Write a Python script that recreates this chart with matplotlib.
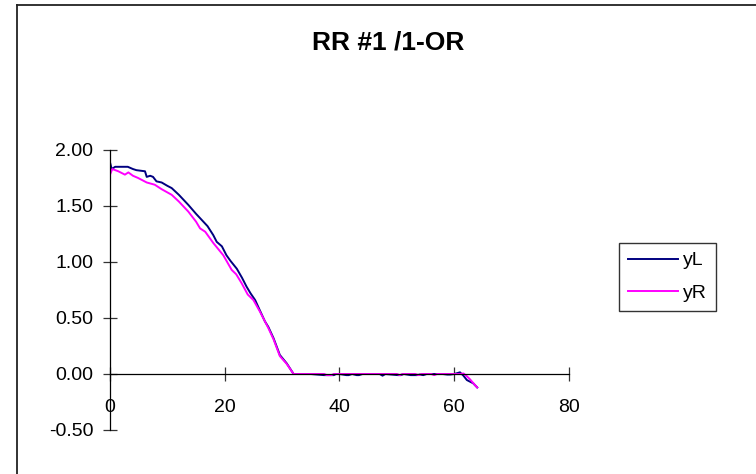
import matplotlib
matplotlib.use("Agg")
import matplotlib.pyplot as plt
from matplotlib.lines import Line2D
from matplotlib.ticker import FormatStrFormatter

plt.rcParams['font.family'] = ['Liberation Sans', 'DejaVu Sans']

# --- data ---
xL = [0, 0.3, 0.9, 2, 3.1, 4, 4.6, 6.1, 6.4, 7, 7.5, 8.1, 9, 10, 10.75, 12,
      13.65, 15, 16, 17, 18, 18.6, 19.5, 20.3, 21, 22.1, 23, 23.8, 24.5, 25.3,
      26.1, 27, 27.6, 28.5, 29.6, 30.8, 32, 35, 37.3, 37.6, 39, 39.4, 40,
      41.2, 41.6, 42.2, 43, 43.4, 44, 47, 47.5, 48, 50.2, 50.7, 51.2, 52.4,
      52.9, 53.5, 54, 54.6, 55.2, 58, 58.8, 59.3, 60, 61, 61.6, 62.2, 63.3, 64]
yL = [1.89, 1.83, 1.85, 1.85, 1.85, 1.83, 1.82, 1.81, 1.76, 1.77, 1.76, 1.72,
      1.71, 1.68, 1.66, 1.60, 1.51, 1.43, 1.375, 1.32, 1.24, 1.18, 1.14, 1.06,
      1.01, 0.94, 0.86, 0.78, 0.72, 0.66, 0.57, 0.47, 0.42, 0.32, 0.17, 0.095,
      0.0, 0.0, -0.01, -0.01, -0.01, 0.0, 0.0, -0.01, -0.01, 0.0, -0.01, -0.01,
      0.0, 0.0, -0.015, 0.0, -0.01, -0.01, 0.0, -0.01, -0.01, -0.01, -0.005,
      -0.01, 0.0, 0.0, -0.005, -0.005, 0.0, 0.015, -0.015, -0.054, -0.083, -0.12]

xR = [0, 0.4, 1.45, 2.6, 3.2, 4, 4.9, 6.4, 7.8, 9, 10.75, 12, 13.65, 15,
      15.7, 16.6, 18, 19.75, 21.2, 22, 22.95, 24, 25, 26.1, 27.6, 28.5, 29.6,
      30.8, 32, 37.3, 37.8, 38.6, 39, 50, 50.5, 51, 53.2, 53.8, 54.3, 56, 56.5,
      57, 61, 61.6, 62.2, 62.7, 63.6, 64]
yR = [1.78, 1.83, 1.81, 1.78, 1.80, 1.77, 1.75, 1.71, 1.69, 1.65, 1.60, 1.54,
      1.45, 1.36, 1.30, 1.27, 1.17, 1.06, 0.93, 0.89, 0.81, 0.71, 0.66, 0.56,
      0.41, 0.31, 0.16, 0.09, 0.0, 0.0, -0.01, -0.01, 0.0, 0.0, -0.01, 0.0,
      0.0, -0.01, 0.0, 0.0, -0.01, 0.0, 0.0, 0.005, -0.02, -0.045, -0.098, -0.12]

title = "RR #1 /1-OR"
xticks = [0, 20, 40, 60, 80]
yticks = [-0.5, 0.0, 0.5, 1.0, 1.5, 2.0]

W, H = 756, 474
fig = plt.figure(figsize=(W / 100, H / 100), dpi=100)
ax = fig.add_axes([110 / W, 1 - 430 / H, (569 - 110) / W, (430 - 150) / H])

ax.plot(xL, yL, color='#000080', lw=1.4, label='yL')
ax.plot(xR, yR, color='#FF00FF', lw=1.4, label='yR')

ax.set_xlim(0, 80)
ax.set_ylim(-0.5, 2.0)
ax.set_xticks(xticks)
ax.set_yticks(yticks)
ax.yaxis.set_major_formatter(FormatStrFormatter('%.2f'))

ax.spines['top'].set_visible(False)
ax.spines['right'].set_visible(False)
ax.spines['bottom'].set_position(('data', 0))
for s in ('left', 'bottom'):
    ax.spines[s].set_color('black')
    ax.spines[s].set_linewidth(0.9)

ax.tick_params(axis='both', direction='inout', length=10, width=0.9,
               color='#333333', labelsize=14)
ax.tick_params(axis='x', pad=13)
ax.tick_params(axis='y', pad=7)

fig.text(388 / W, 1 - 42 / H, title, ha='center', va='center',
         fontsize=19, fontweight='bold')

leg = ax.legend(loc='upper left', bbox_to_anchor=(619 / W, 1 - 243 / H),
                bbox_transform=fig.transFigure, fontsize=14, frameon=True,
                fancybox=False, borderaxespad=0, handlelength=2.6,
                handletextpad=0.25, labelspacing=0.76, borderpad=0.45)
leg.get_frame().set_edgecolor('black')
leg.get_frame().set_linewidth(1.0)

# chart area border (left and top edges visible)
fig.add_artist(Line2D([16.5 / W, 16.5 / W], [0, 1 - 5.3 / H],
                      transform=fig.transFigure, color='#222222', lw=1.3))
fig.add_artist(Line2D([16.5 / W, 1], [1 - 5.3 / H, 1 - 5.3 / H],
                      transform=fig.transFigure, color='#222222', lw=1.3))

fig.savefig('out.png', dpi=100)
